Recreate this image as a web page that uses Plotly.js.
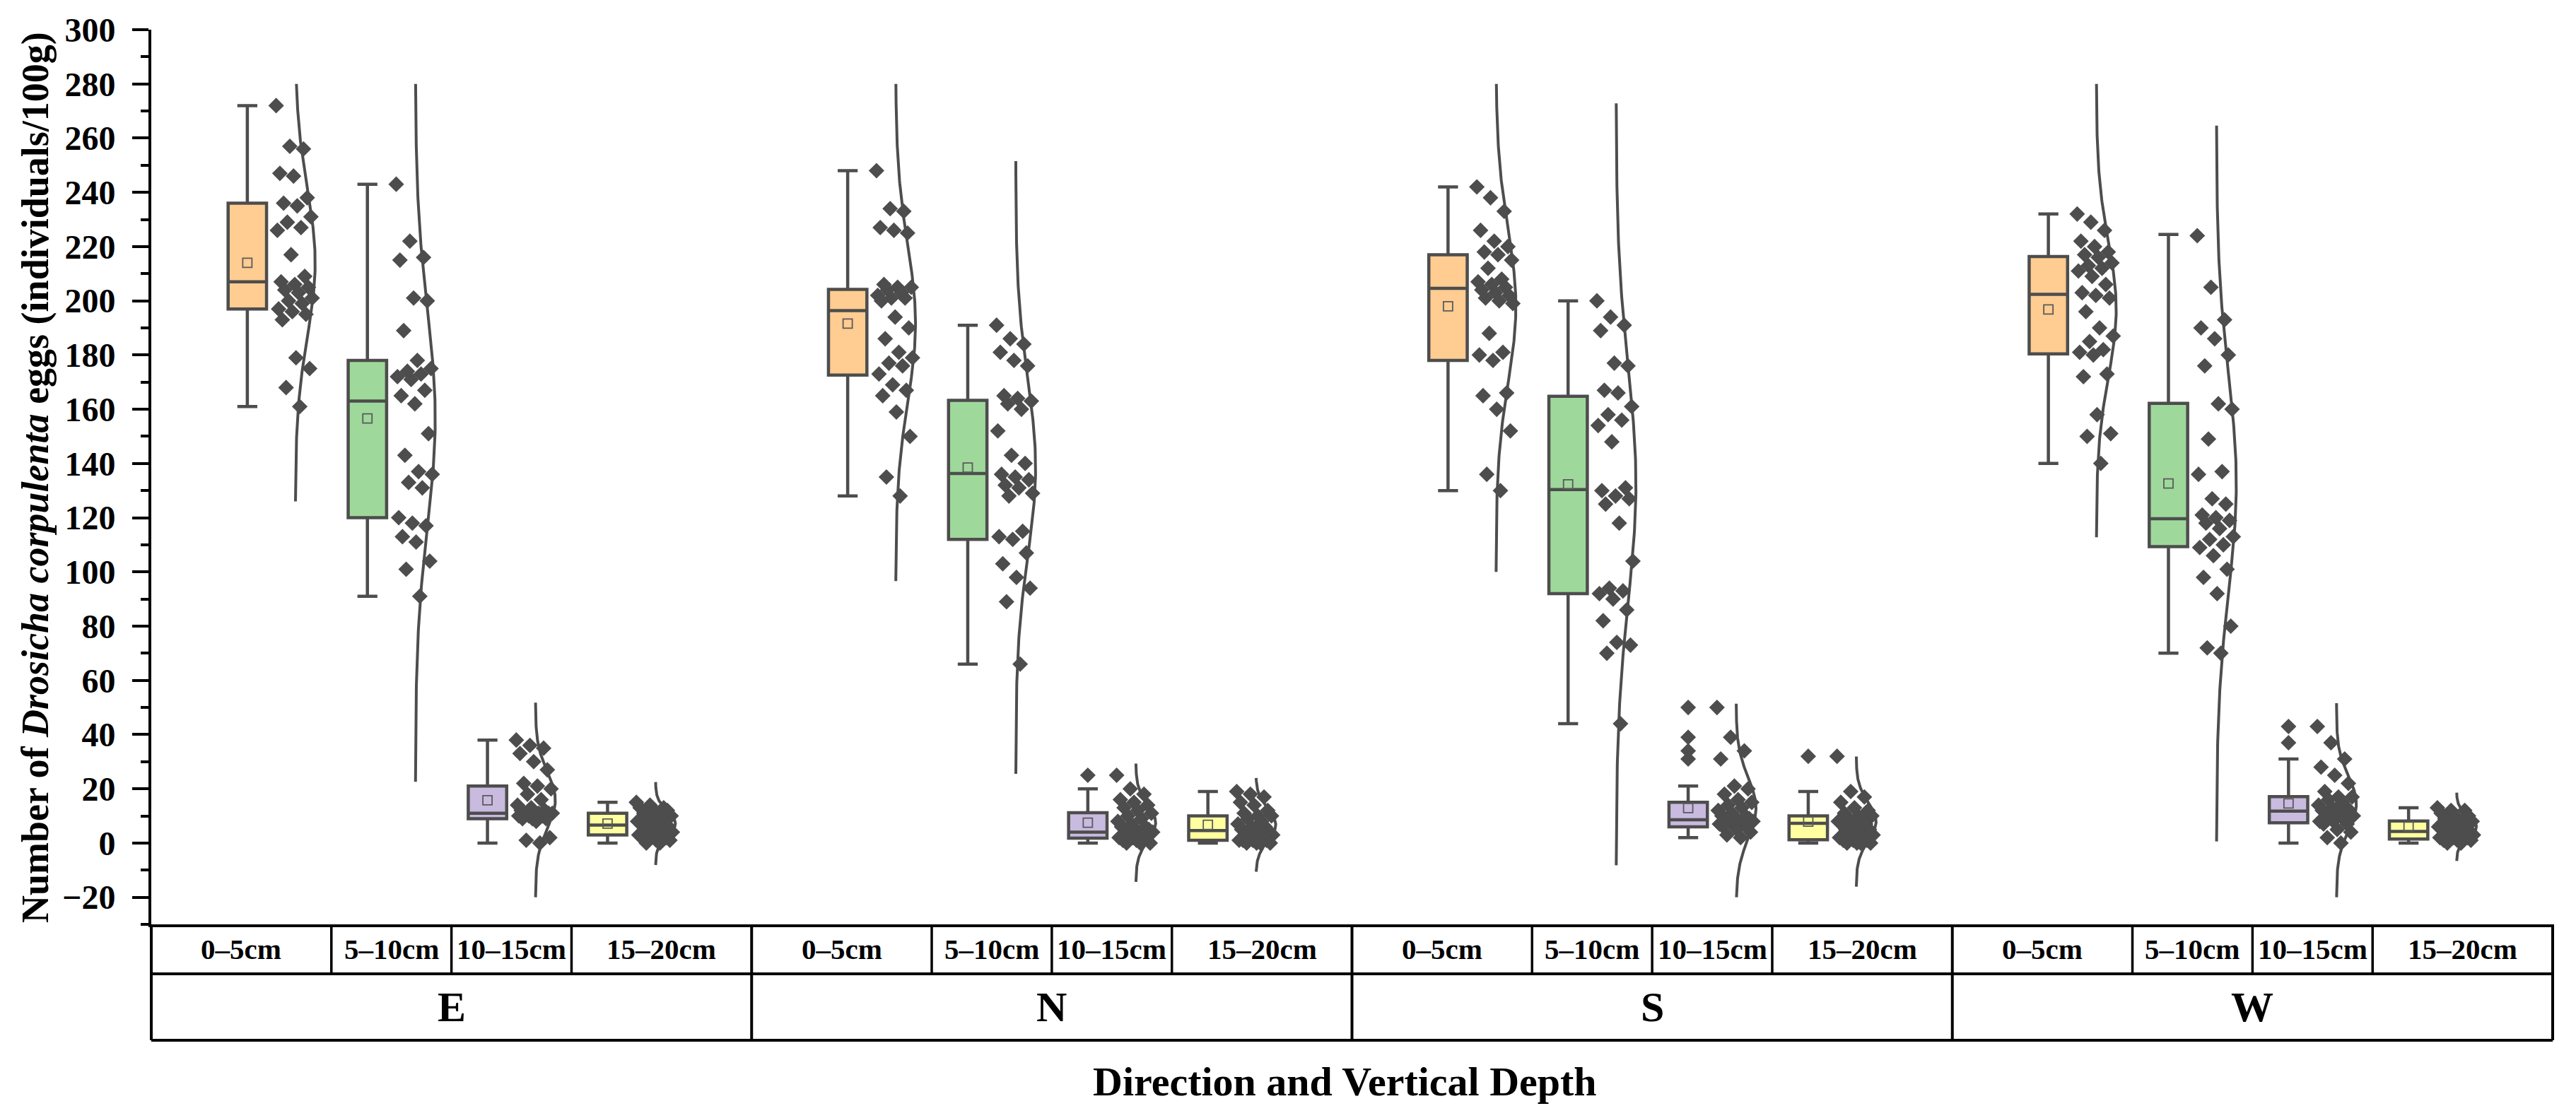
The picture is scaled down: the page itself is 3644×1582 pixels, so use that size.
<!DOCTYPE html>
<html><head><meta charset="utf-8">
<script src="https://cdn.plot.ly/plotly-3.0.1.min.js"></script>
<style>html,body{margin:0;padding:0;background:#fff;}</style>
</head><body>
<div id="chart" style="width:3644px;height:1582px;"></div>
<script>
// ---------------- categories ----------------
const directions = ['E', 'N', 'S', 'W'];
const depths = ['0–5cm', '5–10cm', '10–15cm', '15–20cm'];

// ---------------- raw observations (individuals/100g), per direction, per depth ----------------
const pointsE = [
  [272,257,256,247,246,238,236,235,231,229,227,226,217,209,207,206,205,204,203,201,200,199,197,196,195,193,179,175,168,161],
  [243,222,216,215,201,200,189,178,175,174,173,172,171,167,165,162,151,143,137,136,133,131,120,118,117,113,111,104,101,91],
  [38,36,35,33,30,27,22,21,20,18,16,14,13,12,12,11,11,11,11,11,10,10,10,9,9,9,8,2,1,0],
  [15,14,13,13,12,12,11,11,10,10,9,8,8,7,7,6,6,5,5,4,4,3,3,3,2,2,1,1,0,0]
];
const pointsN = [
  [248,234,233,227,226,225,206,205,205,204,203,202,201,201,200,194,190,186,181,179,177,176,173,169,167,165,159,150,135,128],
  [191,186,184,181,178,176,165,164,163,162,160,152,143,140,136,135,134,132,131,129,128,115,113,112,107,103,98,94,89,66],
  [25,20,18,16,15,14,13,12,11,10,9,8,7,6,6,5,5,5,4,4,3,3,2,2,2,1,1,0,0,0],
  [19,18,17,15,14,12,11,10,10,9,8,7,6,6,5,5,4,4,3,3,2,2,1,1,1,1,0,0,0,0]
];
const pointsS = [
  [242,238,233,226,222,220,218,217,215,212,208,207,206,205,204,203,202,201,200,199,188,181,180,178,166,165,160,152,136,130],
  [200,194,191,189,177,176,167,166,161,158,156,154,148,131,130,128,127,125,118,104,94,93,92,90,86,82,74,73,70,44],
  [50,39,34,31,21,20,18,16,15,14,13,12,11,10,10,9,9,9,8,8,8,7,7,7,6,6,5,4,3,2],
  [32,19,17,15,13,12,11,10,10,9,9,8,8,7,7,6,5,5,4,3,3,2,2,1,1,1,0,0,0,0]
];
const pointsW = [
  [232,229,226,222,220,218,217,216,214,213,212,211,209,206,203,202,201,196,190,187,185,182,181,180,173,172,158,151,150,140],
  [224,205,193,190,186,180,176,162,160,149,137,136,127,125,121,120,119,118,116,113,112,110,109,106,101,98,92,80,72,70],
  [43,37,31,28,25,22,19,17,17,16,15,14,13,13,12,12,12,11,11,10,10,9,8,8,7,7,5,4,2,0],
  [13,12,12,11,10,10,9,8,8,7,7,6,6,5,5,4,4,4,4,3,3,3,2,2,2,1,1,1,0,0]
];

// ---------------- box statistics (order: E0..E3, N0..N3, S0..S3, W0..W3) ----------------
const boxQ1     = [197, 120, 9, 3,    172.6, 112, 1.8, 1,   178, 92, 6, 1.2,     180.4, 109.3, 7.5, 1.5];
const boxMedian = [207, 163, 11, 6.6, 196.4, 136.3, 4, 4.6, 204.6, 130.4, 8.6, 7.3, 202.4, 119.6, 11.8, 4.3];
const boxQ3     = [236, 178, 21, 11,  204.2, 163.3, 11.2, 10, 217, 164.8, 15, 10,  216.3, 162.2, 17.1, 8.1];
const boxLow    = [161, 91, 0, 0,     128, 66, 0, 0,         130, 44, 2, 0,       140, 70, 0, 0];
const boxHigh   = [272, 243, 38, 15,  248, 191, 20, 19,      242, 200, 21, 19,    232, 224.5, 31, 13];
const boxMean   = [214, 156.6, 15.8, 7.2, 191.6, 138.5, 7.5, 6.7, 198, 132.3, 12.9, 7.9, 196.8, 132.6, 14.6, 6];
// half-span of the normal curve around the mean
const curveHalf = [88, 134, 36, 15.3, 95, 113, 21.8, 17.3, 98, 140.5, 38.5, 24, 84, 132, 37, 12.6];

// outliers beyond the whiskers
const outlierDir   = ['N', 'S', 'S', 'S', 'S', 'S', 'W', 'W'];
const outlierDepth = ['10–15cm', '10–15cm', '10–15cm', '10–15cm', '10–15cm', '15–20cm', '10–15cm', '10–15cm'];
const outlierValue = [25, 50, 39, 34, 31, 32, 43, 37];

// ---------------- styles ----------------
const boxColors = ['#FFCC91', '#9FD89B', '#C9BADF', '#FFFFA0'];
const EDGE = '#4d4d4d';
const SERIF = 'Liberation Serif';
const allPoints = [pointsE, pointsN, pointsS, pointsW];

// x layout: each direction occupies 5 units; box at +0.8+d, points/curve 0.4 right of the box
const X_MIN = 0, X_MAX = 20;
const boxX = (g, d) => 5 * g + 0.8 + d;
const ptsX = (g, d) => boxX(g, d) + 0.4;
const jitter = i => (((i * 11) % 30) / 29) * 0.3 - 0.16;
const CURVE_AMP = 0.165;
const CLIP_LO = -20, CLIP_HI = 280;

function sd(a) {
  const m = a.reduce((s, v) => s + v, 0) / a.length;
  return Math.sqrt(a.reduce((s, v) => s + (v - m) * (v - m), 0) / (a.length - 1));
}

const traces = [];
// boxes
depths.forEach((dep, d) => {
  const idx = directions.map((_, g) => g * 4 + d);
  traces.push({
    type: 'box', name: dep,
    x: directions.map((_, g) => boxX(g, d)),
    q1: idx.map(i => boxQ1[i]), median: idx.map(i => boxMedian[i]), q3: idx.map(i => boxQ3[i]),
    lowerfence: idx.map(i => boxLow[i]), upperfence: idx.map(i => boxHigh[i]),
    boxpoints: false, width: 0.32, whiskerwidth: 0.52,
    fillcolor: boxColors[d], line: { color: EDGE, width: 4.5 },
    hoverinfo: 'skip', showlegend: false
  });
});
// means
traces.push({
  type: 'scatter', mode: 'markers',
  x: boxMean.map((_, i) => boxX(Math.floor(i / 4), i % 4)), y: boxMean,
  marker: { symbol: 'square-open', size: 13, color: '#5a5a5a', line: { width: 1.8, color: '#5a5a5a' } },
  showlegend: false, hoverinfo: 'skip'
});
// outliers
traces.push({
  type: 'scatter', mode: 'markers',
  x: outlierValue.map((_, k) => boxX(directions.indexOf(outlierDir[k]), depths.indexOf(outlierDepth[k]))),
  y: outlierValue,
  marker: { symbol: 'diamond', size: 17, color: EDGE },
  showlegend: false, hoverinfo: 'skip'
});
// normal distribution curves (mean from the figure, spread from the observations)
directions.forEach((dir, g) => {
  depths.forEach((dep, d) => {
    const i = g * 4 + d;
    const m = boxMean[i], s = sd(allPoints[g][d]);
    const lo = Math.max(m - curveHalf[i], CLIP_LO), hi = Math.min(m + curveHalf[i], CLIP_HI);
    const ys = [], xs = [];
    const N = 200;
    for (let k = 0; k <= N; k++) {
      const y = lo + (hi - lo) * k / N;
      ys.push(y);
      xs.push(ptsX(g, d) + CURVE_AMP * Math.exp(-0.5 * Math.pow((y - m) / s, 2)));
    }
    traces.push({
      type: 'scatter', mode: 'lines', x: xs, y: ys,
      line: { color: EDGE, width: 4 },
      showlegend: false, hoverinfo: 'skip'
    });
  });
});
// data points
directions.forEach((dir, g) => {
  depths.forEach((dep, d) => {
    const vals = allPoints[g][d];
    traces.push({
      type: 'scatter', mode: 'markers',
      x: vals.map((_, k) => ptsX(g, d) + jitter(k)), y: vals,
      marker: { symbol: 'diamond', size: 17, color: EDGE },
      showlegend: false, hoverinfo: 'skip'
    });
  });
});

// ---------------- category table under the axis ----------------
const ROW1 = -0.0553, ROW2 = -0.1295;
const px = x => (x - X_MIN) / (X_MAX - X_MIN);
const shapes = [];
const hline = (y, w) => shapes.push({ type: 'line', xref: 'paper', yref: 'paper', x0: 0, x1: 1, y0: y, y1: y, line: { color: '#000', width: w } });
const vline = (x, y1, w) => shapes.push({ type: 'line', xref: 'paper', yref: 'paper', x0: px(x), x1: px(x), y0: 0, y1: y1, line: { color: '#000', width: w } });
hline(ROW1, 4); hline(ROW2, 4);
for (let g = 0; g <= directions.length; g++) vline(5 * g, ROW2, 4);
directions.forEach((_, g) => { [1.5, 2.5, 3.5].forEach(o => vline(5 * g + o, ROW1, 3.5)); });

const annotations = [];
const cellCenters = [0.75, 2, 3, 4.25];
directions.forEach((dir, g) => {
  depths.forEach((dep, d) => {
    annotations.push({ xref: 'x', yref: 'paper', x: 5 * g + cellCenters[d], y: ROW1 / 2, text: dep, showarrow: false,
      xanchor: 'center', yanchor: 'middle', font: { family: SERIF, size: 41, weight: 'bold', color: '#000' } });
  });
  annotations.push({ xref: 'x', yref: 'paper', x: 5 * g + 2.5, y: (ROW1 + ROW2) / 2, text: dir, showarrow: false,
    xanchor: 'center', yanchor: 'middle', font: { family: SERIF, size: 60, weight: 'bold', color: '#000' } });
});
annotations.push({ xref: 'paper', yref: 'paper', x: 0.497, y: -0.1754, text: 'Direction and Vertical Depth', showarrow: false,
  xanchor: 'center', yanchor: 'middle', font: { family: SERIF, size: 58, weight: 'bold', color: '#000' } });
annotations.push({ xref: 'paper', yref: 'paper', x: -0.0483, y: 0.5, textangle: -90,
  text: 'Number of <i>Drosicha corpulenta</i> eggs (individuals/100g)', showarrow: false,
  xanchor: 'center', yanchor: 'middle', font: { family: SERIF, size: 54, weight: 'bold', color: '#000' } });

const layout = {
  width: 3644, height: 1582,
  margin: { l: 214, r: 33, t: 42, b: 274 },
  paper_bgcolor: '#fff', plot_bgcolor: '#fff',
  showlegend: false,
  xaxis: { range: [X_MIN, X_MAX], showticklabels: false, ticks: '', showgrid: false, zeroline: false,
    showline: true, linecolor: '#000', linewidth: 4 },
  yaxis: { range: [-30, 300], tick0: 0, dtick: 20, ticks: 'outside', ticklen: 23, tickwidth: 4, tickcolor: '#000',
    showgrid: false, zeroline: false, showline: true, linecolor: '#000', linewidth: 4,
    ticklabelstandoff: 14,
    tickfont: { family: SERIF, size: 48, weight: 'bold', color: '#000' },
    minor: { dtick: 10, ticks: 'outside', ticklen: 11, tickwidth: 4, tickcolor: '#000' } },
  shapes: shapes, annotations: annotations
};

Plotly.newPlot('chart', traces, layout, { staticPlot: true, displayModeBar: false });
</script>
</body></html>
